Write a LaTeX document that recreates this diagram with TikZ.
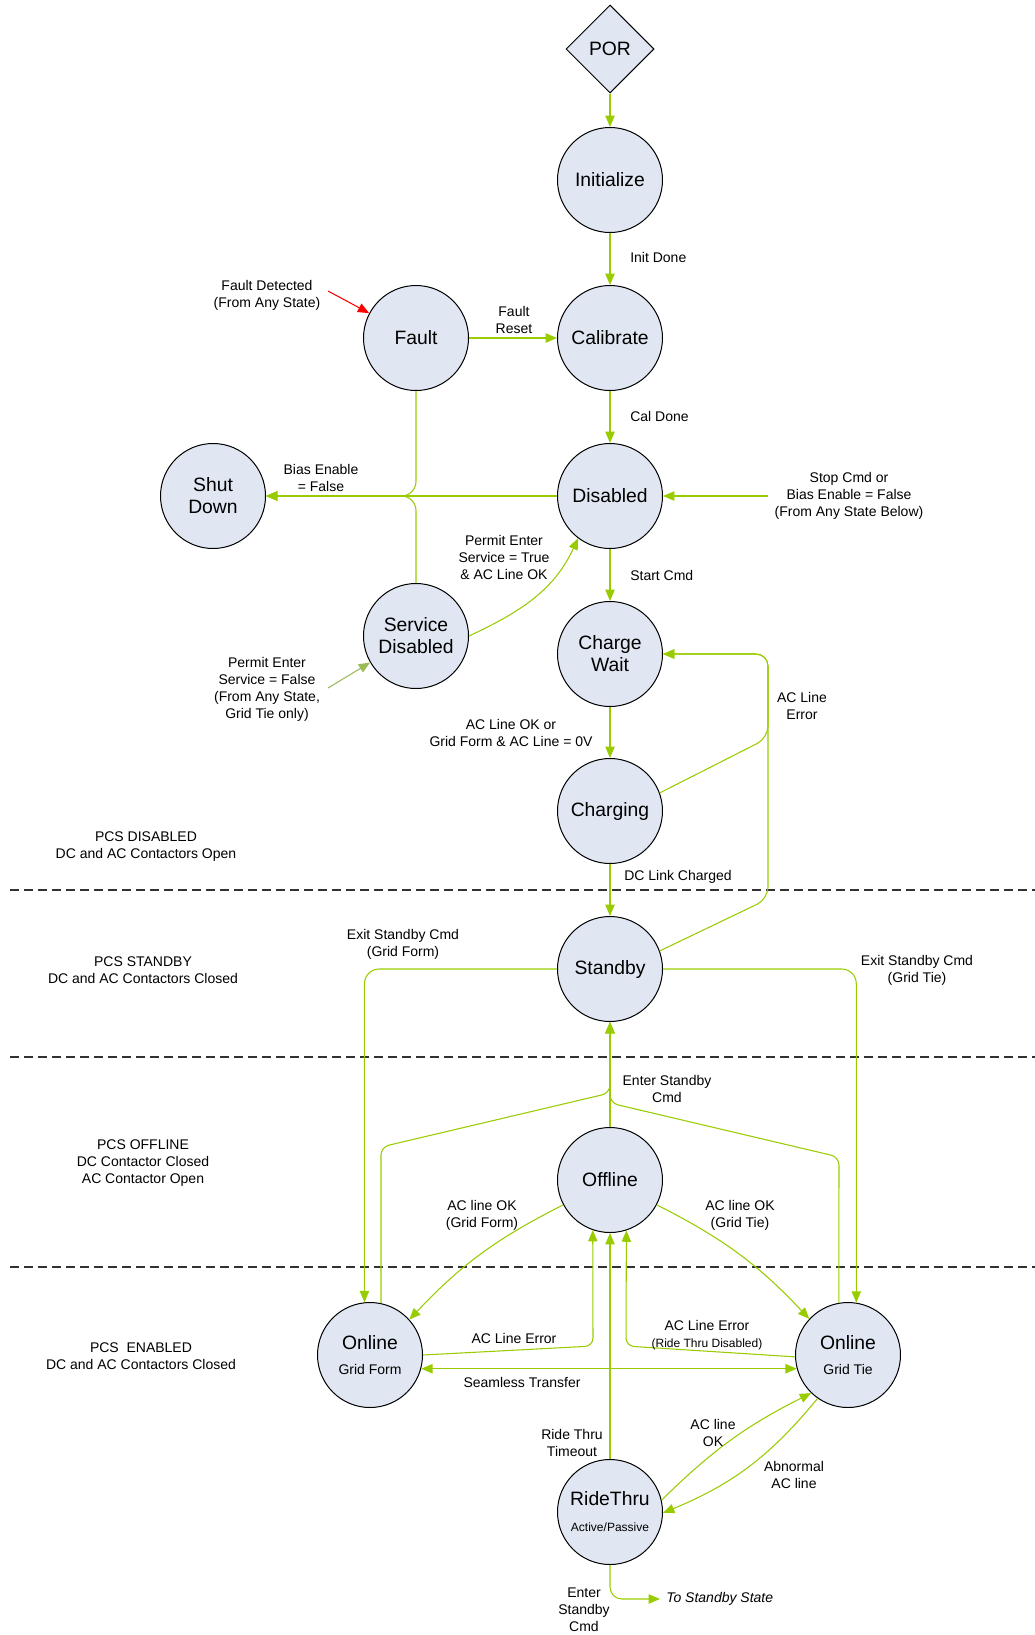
\documentclass[tikz,border=0pt]{standalone}
\usepackage{fontspec}
\setmainfont{Liberation Sans}
\usetikzlibrary{shapes.geometric,arrows.meta,calc}
\definecolor{lgreen}{RGB}{153,204,0}
\definecolor{ggreen}{RGB}{155,187,89}
\definecolor{sfill}{RGB}{224,231,242}
\definecolor{dline}{RGB}{50,50,50}
\begin{document}
\begin{tikzpicture}[x=0.75pt,y=-0.75pt,
 state/.style={circle,draw=black,line width=0.75pt,fill=sfill,minimum size=78.75pt,inner sep=0pt,align=center,font=\fontsize{14.5}{16.5}\selectfont},
 lab/.style={align=center,font=\fontsize{10.5}{12.75}\selectfont,inner sep=0pt},
 smalllab/.style={align=center,font=\fontsize{9}{10.5}\selectfont,inner sep=0pt},
 tip/.tip={Triangle[length=8.5pt,width=7pt]},
 arr/.style={draw=lgreen,line width=0.8pt,-tip},
 ln/.style={draw=lgreen,line width=0.8pt},
 sep/.style={draw=dline,line width=0.9pt,dash pattern=on 6.75pt off 3.75pt},
]
\useasboundingbox (0,0) rectangle (1035,1635);

% separators
\draw[sep] (10,890) -- (1035,890);
\draw[sep] (10,1057) -- (1035,1057);
\draw[sep] (10,1267) -- (1035,1267);

% states
\node[diamond,draw=black,line width=0.75pt,fill=sfill,minimum width=66pt,minimum height=66pt,inner sep=0pt,font=\fontsize{14.5}{16.5}\selectfont] (por) at (610,49) {POR};
\node[state] (init) at (610,180) {Initialize};
\node[state] (calib) at (610,338) {Calibrate};
\node[state] (fault) at (416,338) {Fault};
\node[state] (disabled) at (610,496) {Disabled};
\node[state] (shut) at (213,496) {Shut\\Down};
\node[state] (service) at (416,636) {Service\\Disabled};
\node[state] (cwait) at (610,654) {Charge\\Wait};
\node[state] (charging) at (610,811) {Charging};
\node[state] (standby) at (610,969) {Standby};
\node[state] (offline) at (610,1180) {Offline};
\node[state] (ogf) at (370,1355) {Online\\[2pt]{\fontsize{10.5}{12.75}\selectfont Grid Form}};
\node[state] (ogt) at (848,1355) {Online\\[2pt]{\fontsize{10.5}{12.75}\selectfont Grid Tie}};
\node[state] (ride) at (610,1512) {RideThru\\[3pt]{\fontsize{9}{10.5}\selectfont Active/Passive}};

% top chain
\draw[arr] (por) -- (init);
\draw[arr] (init) -- (calib);
\node[lab,anchor=west] (lInit) at (630,257) {Init Done};
\draw[arr] (fault) -- (calib);
\node[lab] (lFR) at (514,320) {Fault\\Reset};
\draw[arr] (calib) -- (disabled);
\node[lab,anchor=west] (lCal) at (630,416) {Cal Done};

\coordinate (fdS) at (328,291);
\draw[draw=red,line width=0.8pt,-{Triangle[length=8.5pt,width=7pt,fill=red]}] (fdS) -- (fault.152);
\node[lab] (lFD) at (267,295) {Fault Detected\\(From Any State)};

% shut down
\draw[arr] (disabled) -- (shut);
\draw[arr,rounded corners=11pt] (fault.south) |- (shut.east);
\draw[arr,rounded corners=11pt] (service.north) |- (shut.east);
\node[lab] (lBias) at (321,478) {Bias Enable\\= False};

\coordinate (scS) at (768,496);
\draw[arr] (scS) -- (disabled.east);
\node[lab] (lStop) at (849,496) {Stop Cmd or\\Bias Enable = False\\(From Any State Below)};

\draw[arr] (disabled) -- (cwait);
\node[lab,anchor=west] (lStart) at (630,575) {Start Cmd};

\draw[arr] (service.east) to[out=25,in=-115] (disabled.233);
\node[lab] (lPT) at (504,557) {Permit Enter\\Service = True\\\& AC Line OK};

\coordinate (peS) at (328,688);
\draw[draw=ggreen,line width=0.8pt,-{Triangle[length=8.5pt,width=7pt]}] (peS) -- (service.210);
\node[lab] (lPF) at (267,689) {Permit Enter\\Service = False\\(From Any State,\\Grid Tie only)};

\draw[arr] (cwait) -- (charging);
\node[lab] (lACOK) at (511,733) {AC Line OK or\\Grid Form \& AC Line = 0V};

\draw[arr,rounded corners=9pt] (charging.20) -- (768,738) -- (768,654) -- (cwait.east);
\draw[arr,rounded corners=9pt] (standby.20) -- (768,899) -- (768,654) -- (cwait.east);
\node[lab] (lACE) at (802,706) {AC Line\\Error};

\draw[arr] (charging) -- (standby);
\node[lab] (lDC) at (678,877) {DC Link Charged};

% standby exits
\draw[arr,rounded corners=11pt] (standby.west) -| (ogf.96);
\node[lab] (lESF) at (403,944) {Exit Standby Cmd\\(Grid Form)};
\draw[arr,rounded corners=11pt] (standby.east) -| (ogt.81);
\node[lab] (lEST) at (917,970) {Exit Standby Cmd\\(Grid Tie)};

% enter standby
\draw[arr] (offline) -- (standby);
\node[lab] (lES) at (667,1089) {Enter Standby\\Cmd};
\draw[arr,rounded corners=6pt] (ogf.78) -- (381,1147) -- (610,1093) -- (standby.south);
\draw[arr,rounded corners=6pt] (ogt.100) -- (839,1157) -- (610,1103) -- (standby.south);

% offline to online
\draw[arr] (offline.208) to[bend right=10] (ogf.42);
\node[lab] (lOKF) at (482,1215) {AC line OK\\(Grid Form)};
\draw[arr] (offline.332) to[bend left=10] (ogt.137);
\node[lab] (lOKT) at (740,1215) {AC line OK\\(Grid Tie)};

% back to offline
\draw[arr,rounded corners=6pt] (ogf.east) -- (593,1346) -- (offline.251);
\node[lab] (lAEF) at (514,1338) {AC Line Error};
\draw[arr,rounded corners=6pt] (ogt.182) -- (626,1346) -- (offline.288);
\node[lab] (lAET) at (707,1325) {AC Line Error};
\node[smalllab] (lAET2) at (707,1344) {(Ride Thru Disabled)};

\draw[draw=lgreen,line width=0.8pt,tip-tip] (ogf.-15.5) -- (ogt.195.5);
\node[lab] (lST) at (522,1382) {Seamless Transfer};

% ride thru
\draw[arr] (ride) -- (offline);
\node[lab] (lRT) at (572,1443) {Ride Thru\\Timeout};
\draw[arr] (ride.13) to[bend left=9] (ogt.226);
\node[lab] (lRok) at (713,1433) {AC line\\OK};
\draw[arr] (ogt.235) to[bend left=14] (ride.-1);
\node[lab] (lAb) at (794,1475) {Abnormal\\AC line};

\node[lab,anchor=west,inner xsep=4.5pt,font=\fontsize{10.5}{12.75}\selectfont\itshape] (tss) at (660,1599) {To Standby State};
\draw[arr,rounded corners=9pt] (ride.south) |- (tss.west);
\node[lab] (lESC) at (584,1610) {Enter\\Standby\\Cmd};

% region labels
\node[lab] (rDis) at (146,847) {PCS DISABLED\\DC and AC Contactors Open};
\node[lab] (rSb) at (143,970) {PCS STANDBY\\DC and AC Contactors Closed};
\node[lab] (rOff) at (143,1163) {PCS OFFLINE\\DC Contactor Closed\\AC Contactor Open};
\node[lab] (rEn) at (141,1356) {PCS\ \ ENABLED\\DC and AC Contactors Closed};
\end{tikzpicture}
\end{document}
